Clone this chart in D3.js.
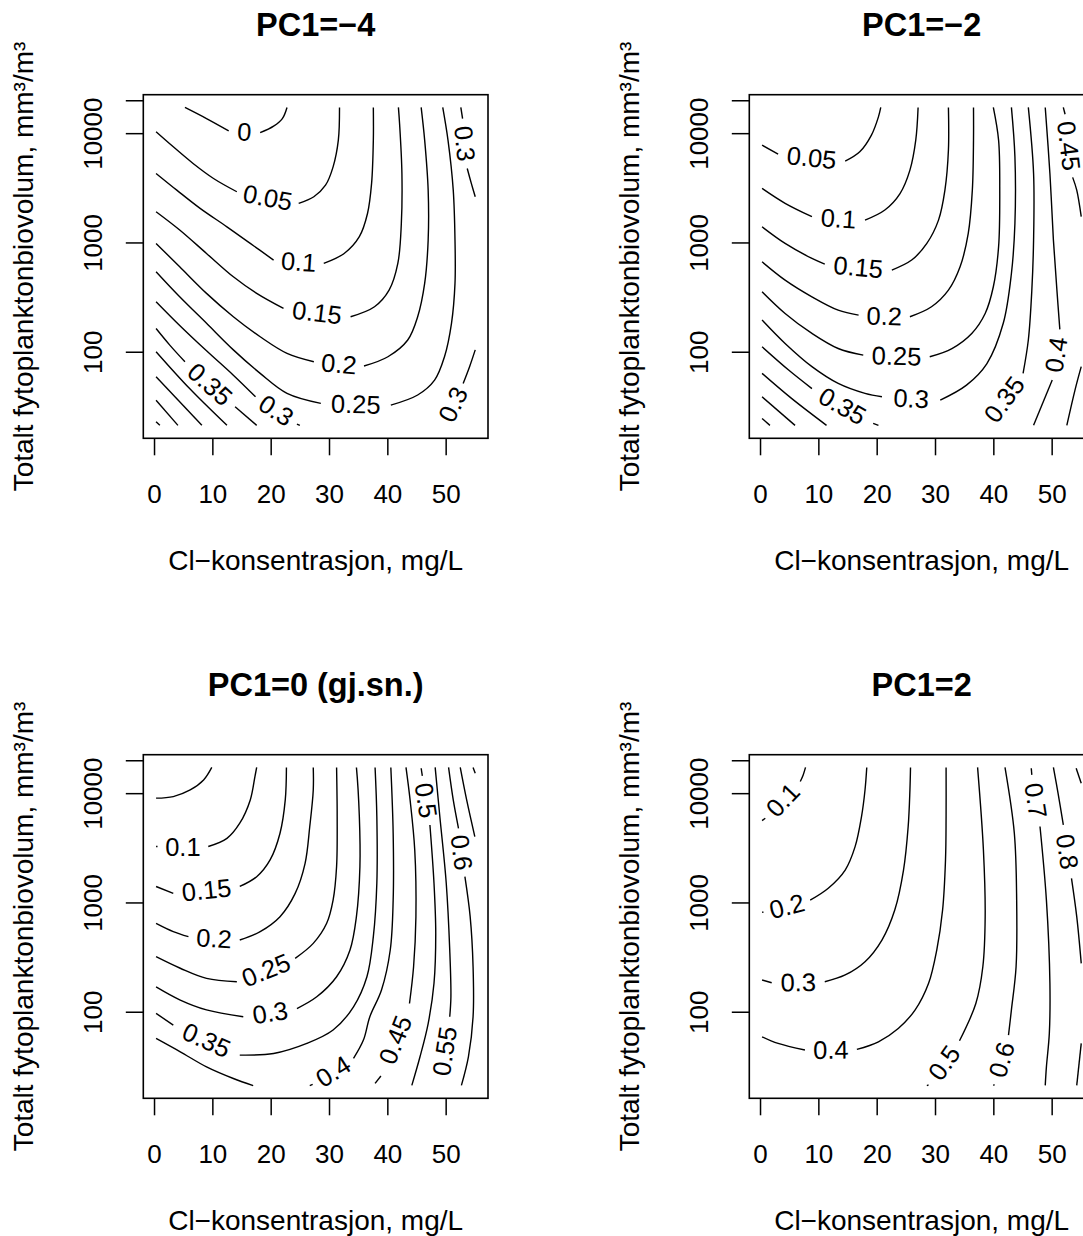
<!DOCTYPE html>
<html><head><meta charset="utf-8">
<script src="https://cdn.jsdelivr.net/npm/d3@7"></script>
<style>
body{margin:0;background:#fff}
svg{display:block}
text{font-family:"Liberation Sans",Arial,Helvetica,sans-serif;fill:#000}
</style>
</head><body>
<svg id="chart" width="1083" height="1236"></svg>
<script>
// ---------- data ----------
const panelTitles = ["PC1=\u22124", "PC1=\u22122", "PC1=0 (gj.sn.)", "PC1=2"];
const xLabel = "Cl\u2212konsentrasjon, mg/L";
const yLabel = "Totalt fytoplanktonbiovolum, mm\u00b3/m\u00b3";
const xTicks = [0, 10, 20, 30, 40, 50];
const yTicks = [100, 1000, 10000, 20000];
const yTickLabels = ["100", "1000", "10000", ""];
const xDataRange = [0.35, 55.07];     // Cl, mg/L
const yDataRange = [21.1, 17200];     // biovolume, mm3/m3

// contour lines: each piece = level + segments (label sits in the gap between segments)
const contoursPC1m4 = [
 {level:0, segs:[[[5.3,17200],[9.0,13600],[12.8,10500]], [[18.2,10100],[20.5,11600],[22.0,13600],[22.8,17200]]]},
 {level:0.05, segs:[[[0.35,10300],[3.3,7500],[6.7,5280],[10.2,3850],[14.2,2910]], [[24.8,2280],[27.4,2620],[29.4,3340],[30.7,4920],[31.6,8630],[31.8,17200]]]},
 {level:0.1, segs:[[[0.35,4280],[3.9,3010],[7.9,2050],[12.5,1390],[16.5,980],[20.5,690]], [[29.1,643],[32.6,793],[35.2,1130],[36.6,1840],[37.3,3470],[37.6,8630],[37.6,17200]]]},
 {level:0.15, segs:[[[0.35,1910],[4.4,1300],[9.0,793],[13.6,485],[17.6,342],[22.2,249]], [[33.7,209],[37.8,258],[40.3,366],[41.8,643],[42.4,1490],[42.5,4280],[42.1,12200],[41.9,17200]]]},
 {level:0.2, segs:[[[0.35,980],[4.4,599],[9.0,342],[13.6,209],[18.2,137],[22.8,96.6],[27.4,81]], [[36.0,74],[40.1,90],[43.5,128],[45.2,209],[46.4,422],[47.0,1050],[47.0,3010],[46.4,8630],[45.8,17200]]]},
 {level:0.25, segs:[[[0.35,539],[4.4,318],[9.0,182],[13.6,104],[18.2,63.4],[22.8,41.6],[28.6,33.7]], [[40.6,32.5],[45.2,40.2],[48.1,55],[49.8,90],[51.0,182],[51.6,422],[51.6,1050],[51.3,3010],[50.4,8630],[49.5,17200]]]},
 {level:0.3, segs:[[[52.6,17200],[52.9,13600]], [[53.7,4750],[54.4,3470],[55.07,2620]]]},
 {level:0.3, segs:[[[55.07,104],[54.1,73],[53.0,51.3]], [[49.5,21.3]]]},
 {level:0.3, segs:[[[0.35,287],[4.4,174],[9.0,102],[13.6,61],[17.4,38.7]], [[24.5,21.8],[25.0,21.2]]]},
 {level:0.35, segs:[[[0.35,163],[2.7,115],[5.3,81]], [[13.9,31.4],[17.6,21.2]]]},
 {level:0.4, segs:[[[0.35,100],[6.1,46],[12.5,21.2]]]},
 {level:0.45, segs:[[[0.35,59],[8.2,21.2]]]},
 {level:0.5, segs:[[[0.35,36],[4.1,21.2]]]},
 {level:0.55, segs:[[[0.35,22.9],[1.0,21.2]]]}
];

const contoursPC1m2 = [
 {level:0.05, segs:[[[0.35,7770],[3.1,6430]], [[14.6,5540],[17.1,6750],[19.1,9600],[20.3,14100],[20.7,17200]]]},
 {level:0.1, segs:[[[0.35,3120],[4.3,2280],[8.9,1720]], [[18.0,1600],[21.4,1980],[24.0,2800],[25.7,4590],[26.7,8630],[27.1,17200]]]},
 {level:0.15, segs:[[[0.35,1390],[4.3,980],[8.9,714],[11.1,634]], [[22.6,559],[26.0,690],[28.6,980],[30.6,1600],[31.7,3010],[32.3,7000],[32.3,17200]]]},
 {level:0.2, segs:[[[0.35,665],[4.3,452],[8.9,318],[13.4,240],[16.9,216]], [[25.7,209],[29.4,258],[32.3,366],[34.3,599],[35.7,1210],[36.4,3010],[36.6,8630],[36.6,17200]]]},
 {level:0.25, segs:[[[0.35,354],[4.3,224],[8.9,147],[13.4,107],[17.7,93]], [[29.1,90],[32.9,107],[36.3,147],[38.6,224],[40.0,393],[40.9,912],[41.1,3010],[40.9,8630],[40.0,17200]]]},
 {level:0.3, segs:[[[0.35,195],[4.3,119],[8.9,73],[13.4,51.3],[18.0,41.6],[20.9,38.7]], [[30.9,36.1],[35.4,49.5],[38.9,78],[41.7,182],[43.1,520],[43.7,1490],[43.7,6080],[43.1,17200]]]},
 {level:0.35, segs:[[[0.35,111],[4.9,68],[8.9,46]], [[19.4,22.1],[20.3,21.2]]]},
 {level:0.35, segs:[[[46.0,17200],[46.9,4280],[46.9,1050],[46.6,366],[46.0,128],[45.1,63.4]], [[38.6,21.2]]]},
 {level:0.4, segs:[[[0.35,63.4],[5.4,37.4],[11.4,21.2]]]},
 {level:0.4, segs:[[[48.9,17200],[49.7,4280],[50.3,1050],[50.9,366],[51.4,160]], [[50.1,55],[46.9,21.2]]]},
 {level:0.45, segs:[[[0.35,38.7],[6.0,21.2]]]},
 {level:0.45, segs:[[[52.0,17200],[52.3,14900]], [[53.6,3940],[54.3,3010],[55.07,1720]]]},
 {level:0.45, segs:[[[55.07,73],[54.0,44.6],[52.6,21.2]]]},
 {level:0.5, segs:[[[0.35,24.5],[1.7,21.2]]]}
];

const contoursPC10 = [
 {level:0.05, segs:[[[0.35,9000],[3.3,9310],[6.2,10700],[8.5,13200],[9.9,17200]]]},
 {level:0.1, segs:[[[0.35,3250],[0.6,3250]], [[9.3,3250],[12.5,3860],[14.7,5310],[16.5,8670],[17.3,14200],[17.6,17200]]]},
 {level:0.15, segs:[[[0.35,1400],[3.3,1210]], [[14.7,1400],[17.6,1720],[19.9,2450],[21.6,4300],[22.5,8670],[22.7,17200]]]},
 {level:0.2, segs:[[[0.35,644],[3.3,541],[5.9,486]], [[14.7,453],[18.2,541],[21.6,741],[24.2,1210],[25.9,2280],[26.7,4950],[27.3,10700],[27.3,17200]]]},
 {level:0.25, segs:[[[0.35,319],[4.5,250],[9.0,202],[14.2,188]], [[24.2,308],[27.3,422],[29.6,644],[30.7,1050],[31.3,2130],[31.4,6110],[31.3,17200]]]},
 {level:0.3, segs:[[[0.35,169],[4.5,128],[9.0,104],[15.3,90]], [[24.5,107],[27.9,137],[31.3,209],[33.6,367],[34.7,741],[35.3,2130],[35.2,6110],[34.7,17200]]]},
 {level:0.35, segs:[[[0.35,96.6],[3.3,75.5]], [[14.7,40.1],[20.5,41.5],[26.2,51.3],[30.7,68],[34.2,111],[36.5,209],[37.6,486],[38.2,1500],[38.2,6110],[37.9,17200]]]},
 {level:0.4, segs:[[[0.35,57],[4.5,43],[9.0,31.3],[13.6,24.5],[17.0,21.1]]]},
 {level:0.4, segs:[[[26.7,21.1],[27.2,21.6]], [[34.2,37.4],[35.9,55],[37.0,90],[39.0,158],[40.5,367],[41.0,1050],[41.0,4300],[40.6,17200]]]},
 {level:0.45, segs:[[[37.9,22.1],[38.9,25.8]], [[43.8,119],[44.5,258],[44.9,741],[44.7,3020],[43.9,8670],[43.2,17200]]]},
 {level:0.5, segs:[[[45.8,16900],[46.0,14400]], [[47.3,5120],[48.0,1500],[48.3,521],[48.0,182],[47.0,78],[45.6,38.7],[44.2,21.2]]]},
 {level:0.55, segs:[[[48.2,17200],[49.0,6110],[50.1,1500],[50.7,367],[50.9,137],[50.7,90]], [[48.9,21.2]]]},
 {level:0.6, segs:[[[50.5,17200],[51.3,8670],[52.2,4770]], [[53.3,1720],[54.2,741],[54.7,258],[54.7,90],[53.9,38.7],[52.7,21.2]]]},
 {level:0.65, segs:[[[52.5,17200],[53.6,8670],[55.0,4010]]]},
 {level:0.7, segs:[[[54.7,17200],[55.07,15200]]]}
];

const contoursPC1p2 = [
 {level:0.1, segs:[[[0.35,5610],[0.9,5890]], [[6.9,12800],[7.4,14700],[7.8,17200]]]},
 {level:0.2, segs:[[[0.35,813],[0.6,816]], [[8.6,1050],[11.7,1350],[14.6,1980],[16.3,3240],[17.4,6110],[18.0,10700],[18.3,17200]]]},
 {level:0.3, segs:[[[0.35,195],[2.0,184]], [[11.1,188],[14.6,217],[18.0,287],[20.9,453],[23.1,853],[24.6,1980],[25.4,4950],[25.7,10700],[25.8,17200]]]},
 {level:0.4, segs:[[[0.35,59],[3.1,51.3],[7.7,44.6]], [[16.6,45.2],[20.3,53.1],[23.7,70.3],[26.6,104],[28.9,182],[30.3,367],[31.3,853],[31.8,2450],[31.9,6110],[31.9,17200]]]},
 {level:0.5, segs:[[[28.6,21.1],[28.9,21.4]], [[34.2,54.2],[37.0,119],[38.2,258],[38.6,741],[38.3,3020],[37.3,17200]]]},
 {level:0.6, segs:[[[40.0,21.1],[40.2,21.6]], [[42.6,61],[43.1,104],[43.9,258],[44.0,1050],[43.6,4300],[42.0,17200]]]},
 {level:0.7, segs:[[[46.5,16900],[46.6,14700]], [[48.0,4950],[49.1,1050],[49.7,182],[49.6,63.4],[49.1,31.3],[48.9,21.2]]]},
 {level:0.8, segs:[[[50.3,17200],[51.1,9970],[52.0,5120]], [[53.4,1660],[54.3,741],[55.07,277]]]},
 {level:0.8, segs:[[[55.07,51.3],[54.3,21.2]]]},
 {level:0.9, segs:[[[54.2,16900],[55.07,12300]]]}
];

const panelContours = [contoursPC1m4, contoursPC1m2, contoursPC10, contoursPC1p2];

// ---------- layout ----------
const W = 1083, H = 1236;
const box = {left: 143.3, right: 488, top: 94.7, bottom: 438.3};
const colStep = 606, rowStep = 660;
const tickFont = 26, labFont = 25.5, axisTitleFont = 28, titleFont = 32.5;

const svg = d3.select("#chart");
svg.append("rect").attr("width", W).attr("height", H).attr("fill", "#fff");

function pad(e) { const d = e[1] - e[0]; return [e[0] - 0.04 * d, e[1] + 0.04 * d]; }
const xDom = pad(xDataRange);
const yDom = pad(yDataRange.map(Math.log10)).map(v => Math.pow(10, v));

panelTitles.forEach((title, i) => {
  const ox = (i % 2) * colStep, oy = Math.floor(i / 2) * rowStep;
  const L = box.left + ox, R = box.right + ox, T = box.top + oy, B = box.bottom + oy;
  const x = d3.scaleLinear().domain(xDom).range([L, R]);
  const y = d3.scaleLog().domain(yDom).range([B, T]);
  const g = svg.append("g");

  const line = d3.line().x(d => x(d[0])).y(d => y(d[1])).curve(d3.curveCatmullRom.alpha(0.5));

  panelContours[i].forEach(c => {
    c.segs.forEach(s => {
      if (s.length > 1) g.append("path").attr("d", line(s)).attr("fill", "none")
        .attr("stroke", "#000").attr("stroke-width", 1.4);
    });
    for (let k = 0; k < c.segs.length - 1; k++) {
      const a = c.segs[k][c.segs[k].length - 1], b = c.segs[k + 1][0];
      const ax = x(a[0]), ay = y(a[1]), bx = x(b[0]), by = y(b[1]);
      let ang = Math.atan2(by - ay, bx - ax) * 180 / Math.PI;
      if (ang > 90) ang -= 180;
      if (ang < -90) ang += 180;
      g.append("text")
        .attr("transform", `translate(${(ax + bx) / 2},${(ay + by) / 2}) rotate(${ang})`)
        .attr("text-anchor", "middle").attr("dominant-baseline", "central")
        .attr("font-size", labFont).text(String(c.level));
    }
  });

  // frame
  g.append("rect").attr("x", L).attr("y", T).attr("width", R - L).attr("height", B - T)
    .attr("fill", "none").attr("stroke", "#000").attr("stroke-width", 1.6);

  // x axis
  const xa = g.append("g").attr("transform", `translate(0,${B})`)
    .call(d3.axisBottom(x).tickValues(xTicks).tickFormat(d3.format("d")).tickSize(17).tickPadding(29));
  xa.select(".domain").remove();
  xa.selectAll("line").attr("stroke", "#000").attr("stroke-width", 1.5);
  xa.selectAll("text").attr("font-size", tickFont).attr("fill", "#000")
    .attr("font-family", '"Liberation Sans",Arial,Helvetica,sans-serif');

  // y axis
  const ya = g.append("g").attr("transform", `translate(${L},0)`)
    .call(d3.axisLeft(y).tickValues(yTicks).tickFormat((d, j) => yTickLabels[j]).tickSize(17.5));
  ya.select(".domain").remove();
  ya.selectAll("line").attr("stroke", "#000").attr("stroke-width", 1.5);
  ya.selectAll("text").attr("font-size", tickFont).attr("fill", "#000")
    .attr("font-family", '"Liberation Sans",Arial,Helvetica,sans-serif')
    .attr("x", null).attr("dy", null).attr("text-anchor", "middle")
    .attr("transform", `translate(${101.7 - box.left},0) rotate(-90)`);

  // titles
  g.append("text").attr("x", (L + R) / 2).attr("y", 36 + oy).attr("text-anchor", "middle")
    .attr("font-size", titleFont).attr("font-weight", "bold").text(title);
  g.append("text").attr("x", (L + R) / 2).attr("y", 570 + oy).attr("text-anchor", "middle")
    .attr("font-size", axisTitleFont).text(xLabel);
  g.append("text").attr("transform", `translate(${33.3 + ox},${(T + B) / 2}) rotate(-90)`)
    .attr("text-anchor", "middle").attr("font-size", axisTitleFont).text(yLabel);
});
</script>
</body></html>
